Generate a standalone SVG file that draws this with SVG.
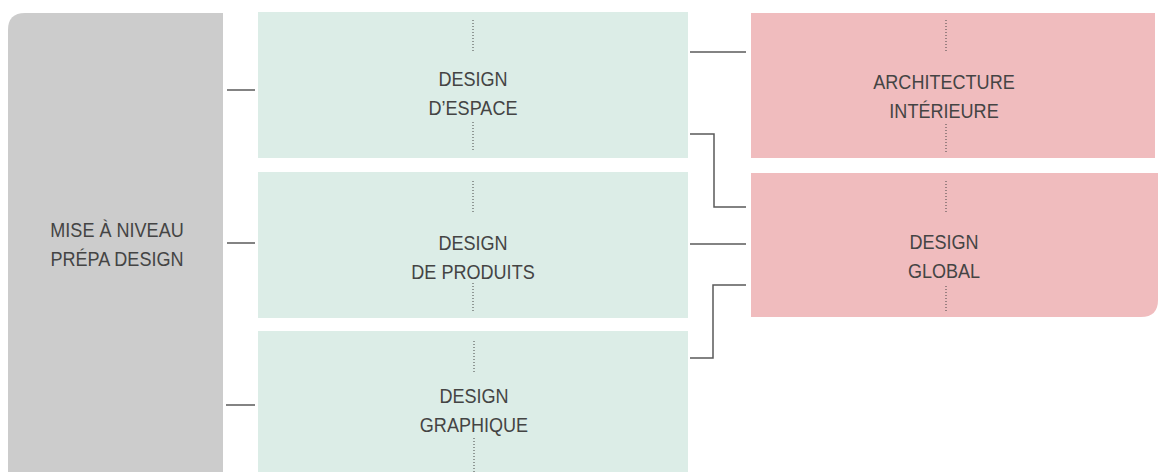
<svg xmlns="http://www.w3.org/2000/svg" width="1158" height="472" viewBox="0 0 1158 472">
<style>
.t{font-family:"Liberation Sans",Arial,sans-serif;font-size:21px;fill:#444444;text-anchor:middle}
.gray{fill:#cccccc}
.green{fill:#dcede7}
.pink{fill:#f0bcbe}
.dot{stroke:#444;stroke-width:1;stroke-dasharray:1 2;fill:none}
.con{stroke:#5a5a5a;stroke-width:1.5;fill:none}
</style>
<rect width="1158" height="472" fill="#ffffff"/>
<g id="prepa">
<path class="gray" d="M8 30 Q8 13 25 13 L223 13 L223 472 L8 472 Z"/>
<text class="t" transform="translate(117,237) scale(0.86,1)">MISE À NIVEAU</text>
<text class="t" transform="translate(117,266) scale(0.86,1)">PRÉPA DESIGN</text>
</g>
<g id="espace">
<rect class="green" x="258" y="12" width="430" height="146"/>
<line class="dot" x1="473" y1="20" x2="473" y2="52"/>
<line class="dot" x1="473" y1="122" x2="473" y2="152"/>
<text class="t" transform="translate(473,86) scale(0.86,1)">DESIGN</text>
<text class="t" transform="translate(473,115) scale(0.86,1)">D’ESPACE</text>
</g>
<g id="produits">
<rect class="green" x="258" y="172" width="430" height="146"/>
<line class="dot" x1="473" y1="181" x2="473" y2="214"/>
<line class="dot" x1="473" y1="283" x2="473" y2="313"/>
<text class="t" transform="translate(473,250) scale(0.86,1)">DESIGN</text>
<text class="t" transform="translate(473,279) scale(0.86,1)">DE PRODUITS</text>
</g>
<g id="graphique">
<rect class="green" x="258" y="331" width="430" height="141"/>
<line class="dot" x1="474" y1="341" x2="474" y2="374"/>
<line class="dot" x1="474" y1="438" x2="474" y2="472"/>
<text class="t" transform="translate(474,403) scale(0.86,1)">DESIGN</text>
<text class="t" transform="translate(474,432) scale(0.86,1)">GRAPHIQUE</text>
</g>
<g id="architecture">
<rect class="pink" x="751" y="13" width="404" height="145"/>
<line class="dot" x1="946" y1="20" x2="946" y2="53"/>
<line class="dot" x1="946" y1="124" x2="946" y2="153"/>
<text class="t" transform="translate(944,89) scale(0.86,1)">ARCHITECTURE</text>
<text class="t" transform="translate(944,118) scale(0.86,1)">INTÉRIEURE</text>
</g>
<g id="global">
<path class="pink" d="M751 173 L1158 173 L1158 300 Q1158 317 1141 317 L751 317 Z"/>
<line class="dot" x1="946" y1="181" x2="946" y2="214"/>
<line class="dot" x1="946" y1="286" x2="946" y2="313"/>
<text class="t" transform="translate(944,249) scale(0.86,1)">DESIGN</text>
<text class="t" transform="translate(944,278) scale(0.86,1)">GLOBAL</text>
</g>
<g id="connectors">
<line class="con" x1="227" y1="90" x2="255" y2="90"/>
<line class="con" x1="227" y1="243" x2="255" y2="243"/>
<line class="con" x1="226" y1="405" x2="255" y2="405"/>
<line class="con" x1="690" y1="52" x2="746" y2="52"/>
<polyline class="con" points="690,134 714,134 714,207 746,207"/>
<line class="con" x1="690" y1="244" x2="746" y2="244"/>
<polyline class="con" points="746,285 713,285 713,358 690,358"/>
</g>
</svg>
